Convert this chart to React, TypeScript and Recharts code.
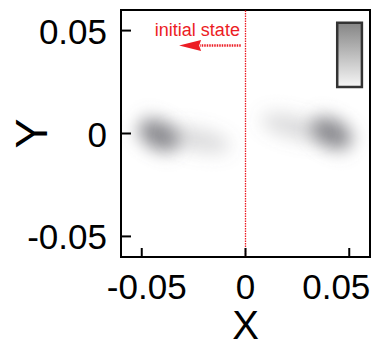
import { ScatterChart, Scatter, XAxis, YAxis, ReferenceLine, ReferenceArea, ReferenceDot } from 'recharts'

const FONT = '"Liberation Sans", Arial, Helvetica, sans-serif'
const RED = '#ec1c24'

// density lobes: centre and relative darkness
const lobeX = [-0.0418, -0.0235, 0.0415, 0.0235]
const lobeY = [-0.0007, -0.003, 0.0001, 0.0032]
const lobeLevel = [0.82, 0.26, 0.82, 0.26]

const xTicks = [-0.05, 0, 0.05]
const yTicks = [-0.05, 0, 0.05]
const domain: [number, number] = [-0.06, 0.06]

// colour bar corners (data units)
const barX = [0.0442, 0.0561]
const barY = [0.0226, 0.0538]

// "initial state" marker and arrow, data units
const initX = 0
const arrowY = 0.0428
const arrowFrom = -0.0023
const arrowTo = -0.0219
const arrowTip = -0.032
const noteX = -0.0027
const noteY = 0.0474

const lobes = lobeX.map((x, i) => ({ id: i, x, y: lobeY[i], level: lobeLevel[i] }))

// ellipse look of each lobe (px)
const lobeShape = [
  { rx: 22, ry: 14, rot: 28, f: 'blurCore' },
  { rx: 34, ry: 11, rot: 12, f: 'blurTail' },
  { rx: 22, ry: 14, rot: 28, f: 'blurCore' },
  { rx: 34, ry: 11, rot: 14, f: 'blurTail' },
]

// x label nudges so the end labels stay inside the frame, as in the source
const xLabelShift: Record<string, number> = { '-0.05': 5, '0': 0, '0.05': -13 }

// eslint-disable-next-line @typescript-eslint/no-explicit-any
const Lobe = (props: any) => {
  const { cx, cy, payload } = props
  const s = lobeShape[payload.id]
  return (
    <ellipse
      cx={cx} cy={cy} rx={s.rx} ry={s.ry}
      transform={`rotate(${s.rot} ${cx} ${cy})`}
      fill="#707076" fillOpacity={payload.level}
      filter={`url(#${s.f})`}
    />
  )
}

// eslint-disable-next-line @typescript-eslint/no-explicit-any
const XTick = ({ x, y, payload }: any) => (
  <g>
    <line x1={x} y1={y} x2={x} y2={y - 9} stroke="#000" strokeWidth={2} />
    <text x={x + (xLabelShift[String(payload.value)] ?? 0)} y={y + 42} textAnchor="middle"
      fontSize={35} fontFamily={FONT} fill="#000">
      {payload.value}
    </text>
  </g>
)

// eslint-disable-next-line @typescript-eslint/no-explicit-any
const YTick = ({ x, y, payload }: any) => (
  <g>
    <line x1={x} y1={y} x2={x + 10} y2={y} stroke="#000" strokeWidth={2} />
    <text x={x - 14} y={y + 13} textAnchor="end" fontSize={35} fontFamily={FONT} fill="#000">
      {payload.value}
    </text>
  </g>
)

export default function App() {
  return (
    <div style={{ position: 'absolute', left: 0, top: 0, background: '#fff' }}>
      <ScatterChart width={374} height={348} margin={{ top: 10, right: 4, bottom: 0, left: 0 }}>
        <defs>
          <filter id="blurCore" x="-100%" y="-100%" width="300%" height="300%">
            <feGaussianBlur stdDeviation={8.5} />
          </filter>
          <filter id="blurTail" x="-100%" y="-100%" width="300%" height="300%">
            <feGaussianBlur stdDeviation={9} />
          </filter>
          <linearGradient id="cbar" x1="0" y1="0" x2="0" y2="1">
            <stop offset="0%" stopColor="#858585" />
            <stop offset="100%" stopColor="#f6f6f6" />
          </linearGradient>
        </defs>
        <XAxis
          type="number" dataKey="x" domain={domain} ticks={xTicks} allowDataOverflow
          height={91} axisLine={false} tickSize={0} tickMargin={0} tick={<XTick />} interval={0}
          label={{
            // eslint-disable-next-line @typescript-eslint/no-explicit-any
            content: ({ viewBox }: any) => (
              <text x={viewBox.x + viewBox.width / 2} y={viewBox.y + 82} textAnchor="middle"
                fontSize={40} fontFamily={FONT} fill="#000">X</text>
            ),
          }}
        />
        <YAxis
          type="number" dataKey="y" domain={domain} ticks={yTicks} allowDataOverflow
          width={121} axisLine={false} tickSize={0} tickMargin={0} tick={<YTick />} interval={0}
          label={{
            // eslint-disable-next-line @typescript-eslint/no-explicit-any
            content: ({ viewBox }: any) => (
              <text transform={`translate(47 ${viewBox.y + viewBox.height / 2}) rotate(-90)`}
                textAnchor="middle" fontSize={45} fontFamily={FONT} fill="#000">Y</text>
            ),
          }}
        />
        <Scatter data={lobes} shape={<Lobe />} isAnimationActive={false} />
        <ReferenceArea
          x1={barX[0]} x2={barX[1]} y1={barY[0]} y2={barY[1]}
          fill="url(#cbar)" fillOpacity={1} stroke="#333" strokeWidth={2.5}
        />
        <ReferenceLine
          segment={[{ x: initX, y: domain[0] }, { x: initX, y: domain[1] }]}
          stroke={RED} strokeWidth={1.3} strokeDasharray="1.5 1"
        />
        <ReferenceLine
          segment={[{ x: arrowFrom, y: arrowY }, { x: arrowTo, y: arrowY }]}
          stroke={RED} strokeWidth={2.5} strokeDasharray="1.5 1"
        />
        <ReferenceDot
          x={arrowTip} y={arrowY} r={0}
          // eslint-disable-next-line @typescript-eslint/no-explicit-any
          shape={(p: any) => (
            <polygon
              points={`${p.cx},${p.cy} ${p.cx + 22},${p.cy - 5.5} ${p.cx + 20},${p.cy} ${p.cx + 22},${p.cy + 5.5}`}
              fill={RED}
            />
          )}
        />
        <ReferenceDot
          x={noteX} y={noteY} r={0}
          // eslint-disable-next-line @typescript-eslint/no-explicit-any
          shape={(p: any) => (
            <text x={p.cx} y={p.cy} textAnchor="end" fontSize={18} fontFamily={FONT} fill={RED}>
              initial state
            </text>
          )}
        />
        <ReferenceArea
          x1={domain[0]} x2={domain[1]} y1={domain[0]} y2={domain[1]}
          fill="none" stroke="#000" strokeWidth={2}
        />
      </ScatterChart>
    </div>
  )
}
